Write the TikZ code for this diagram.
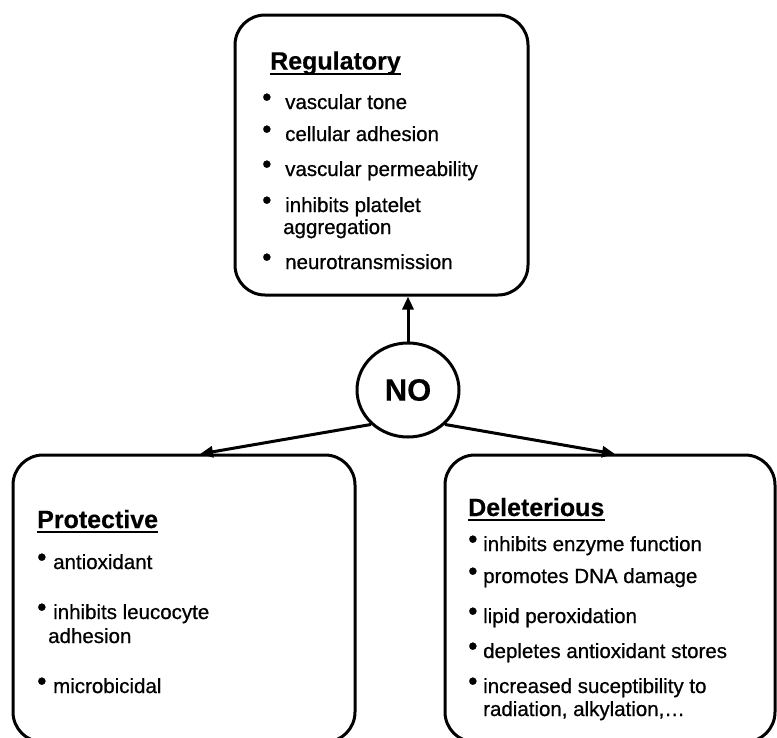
\documentclass[tikz,border=0pt]{standalone}
\usepackage{fontspec}
\setmainfont{Liberation Sans}
\newfontfamily\itmfont{Liberation Sans}[FakeBold=0.7]
\newfontfamily\ttlfont{Liberation Sans Bold}[FakeBold=0.4]
\usetikzlibrary{arrows.meta,shapes.geometric}
\newcommand{\bl}[1]{\makebox[#1][l]{\raisebox{3pt}{\scalebox{1.3}{\textbullet}}}}
\tikzset{
 box/.style={draw, line width=3pt, rounded corners=30pt, inner sep=0pt},
 ttl/.style={anchor=base west, inner sep=0pt, font=\fontsize{25}{30}\selectfont\ttlfont},
 itm/.style={anchor=base west, inner sep=0pt, font=\fontsize{20.5}{24}\selectfont\itmfont},
 arr/.style={line width=3pt, -{Triangle[length=13pt,width=11pt]}},
 uln/.style={line width=2pt},
}
\begin{document}
\begin{tikzpicture}[x=1pt,y=-1pt]
\clip (0,0) rectangle (777,737);
\fill[white] (0,0) rectangle (777,737);
% boxes
\node[box, minimum width=293pt, minimum height=280pt] (reg) at (381.5,155) {};
\node[box, minimum width=342pt, minimum height=287pt] (pro) at (184,598.5) {};
\node[box, minimum width=330pt, minimum height=287pt] (del) at (610,598.5) {};
% NO
\node[ellipse, draw, line width=3pt, minimum width=102pt, minimum height=94pt, inner sep=0pt,
      font=\fontsize{31}{31}\selectfont\ttlfont] (no) at (408,390) {NO};
\coordinate (pin) at (200,454);
\coordinate (din) at (615,454);
\draw[arr] (no.north) -- (no.north |- reg.south);
\draw[arr] (no.223) -- (pin);
\draw[arr] (no.317) -- (din);
% Regulatory
\node[ttl] (t1) at (270,69.5) {Regulatory};
\draw[uln] ([yshift=-4pt]t1.base west) -- ([yshift=-4pt]t1.base east);
\node[itm] (r1) at (262,109) {\bl{23pt}vascular tone};
\node[itm] (r2) at (262,141) {\bl{23pt}cellular adhesion};
\node[itm] (r3) at (262,176) {\bl{23pt}vascular permeability};
\node[itm] (r4) at (262,212) {\bl{23pt}inhibits platelet};
\node[itm] (r4b) at (283,234) {aggregation};
\node[itm] (r5) at (262,269) {\bl{23pt}neurotransmission};
% Protective
\node[ttl] (t2) at (37,528) {Protective};
\draw[uln] ([yshift=-4pt]t2.base west) -- ([yshift=-4pt]t2.base east);
\node[itm] (p1) at (37,569) {\bl{16pt}antioxidant};
\node[itm] (p2) at (37,619) {\bl{16pt}inhibits leucocyte};
\node[itm] (p2b) at (48,643) {adhesion};
\node[itm] (p3) at (37,693) {\bl{16pt}microbicidal};
% Deleterious
\node[ttl] (t3) at (468,516) {Deleterious};
\draw[uln] ([yshift=-4pt]t3.base west) -- ([yshift=-4pt]t3.base east);
\node[itm] (d1) at (468,551) {\bl{15pt}inhibits enzyme function};
\node[itm] (d2) at (468,583) {\bl{15pt}promotes DNA damage};
\node[itm] (d3) at (468,623) {\bl{15pt}lipid peroxidation};
\node[itm] (d4) at (468,658) {\bl{15pt}depletes antioxidant stores};
\node[itm] (d5) at (468,693) {\bl{15pt}increased suceptibility to};
\node[itm] (d5b) at (483,716) {radiation, alkylation,\dots};
\end{tikzpicture}
\end{document}
